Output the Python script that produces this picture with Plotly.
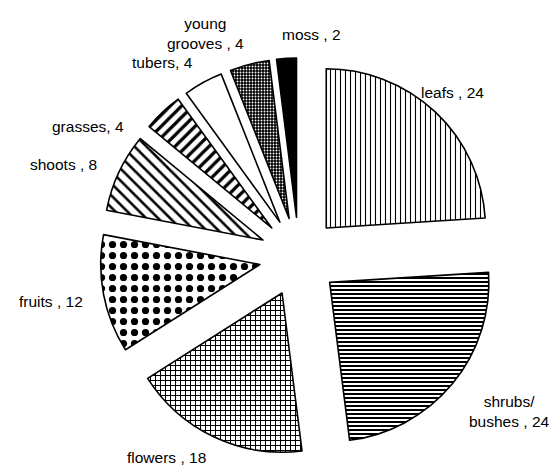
import plotly.graph_objects as go

labels = ["leafs", "shrubs/<br>bushes", "flowers", "fruits", "shoots", "grasses", "tubers", "young<br>grooves", "moss"]
values = [24, 24, 18, 12, 8, 4, 4, 4, 2]
seps = [" , ", " , ", " , ", " , ", " , ", ", ", ", ", " , ", " , "]

# styling (not data)
fill_colors = ["white", "white", "white", "white", "white", "white", "white", "black", "black"]
shapes = ["|", "-", "+", ".", "\\", "/", "", ".", ""]
fg = ["black", "black", "black", "black", "black", "black", "black", "white", "black"]
sizes = [5, 4, 5, 11, 8.5, 8, 8, 3, 8]
solid = [0.22, 0.5, 0.36, 0.34, 0.3, 0.4, 0.3, 0.3, 0.3]

# label anchor positions in window pixels (layout only)
label_px = [(452, 92), (509, 411), (166, 457), (51, 301), (63, 165),
            (88, 127), (162, 63), (205, 33), (311, 34)]

OFF = 8  # default page body margin
W, H = 560 - OFF, 468 - OFF
cx, cy, rt = 299 - OFF, 257 - OFF, 199

fig = go.Figure(go.Pie(
    labels=labels,
    values=values,
    sort=False,
    direction="clockwise",
    rotation=0,
    pull=[0.25] * len(values),
    textinfo="none",
    hoverinfo="label+value",
    marker=dict(
        colors=fill_colors,
        line=dict(color="black", width=1.6),
        pattern=dict(shape=shapes, fgcolor=fg, size=sizes, solidity=solid,
                     fillmode="overlay", fgopacity=1),
    ),
    domain=dict(x=[(cx - rt) / W, (cx + rt) / W], y=[1 - (cy + rt) / H, 1 - (cy - rt) / H]),
    showlegend=False,
))

for lab, val, sep, (px, py) in zip(labels, values, seps, label_px):
    fig.add_annotation(
        x=(px - OFF) / W, y=1 - (py - OFF) / H, xref="paper", yref="paper",
        text=f"{lab}{sep}{val}", showarrow=False, align="center",
        font=dict(family="Liberation Sans, Arial, sans-serif", size=15.5, color="black"),
        xanchor="center", yanchor="middle",
    )

fig.update_layout(
    width=W, height=H,
    margin=dict(l=0, r=0, t=0, b=0),
    paper_bgcolor="white", plot_bgcolor="white",
)
fig.write_html("out.html")
